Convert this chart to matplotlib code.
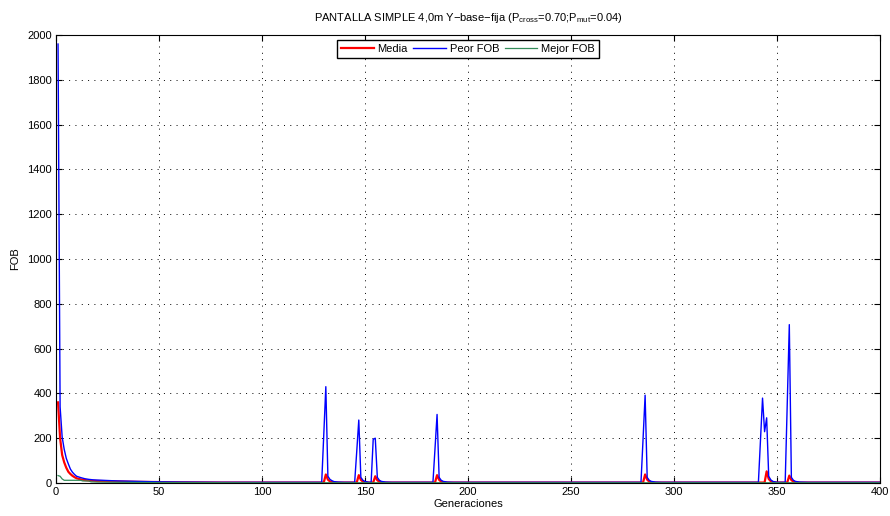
import matplotlib
matplotlib.use("Agg")
import matplotlib.pyplot as plt

plt.rcParams['font.family'] = ['Liberation Sans', 'DejaVu Sans']
plt.rcParams['mathtext.fontset'] = 'custom'
plt.rcParams['mathtext.rm'] = 'Liberation Sans'
plt.rcParams['mathtext.it'] = 'Liberation Sans:italic'

title = "PANTALLA SIMPLE 4,0m Y\u2212base\u2212fija (P$_{\\mathrm{cross}}$=0.70;P$_{\\mathrm{mut}}$=0.04)"
xlabel = "Generaciones"
ylabel = "FOB"
x_ticks = [0, 50, 100, 150, 200, 250, 300, 350, 400]
y_ticks = [0, 200, 400, 600, 800, 1000, 1200, 1400, 1600, 1800, 2000]

# Peor FOB (worst)
peor_gen = [1, 2, 3, 4, 5, 6, 7, 8, 9, 10, 12, 14, 16, 18, 20, 25, 30, 40, 50, 60, 80, 100,
            129, 130, 131, 132, 133, 134, 135, 137, 140,
            145, 146, 147, 148, 149, 150, 152,
            153, 154, 155, 156, 157, 158, 160, 163,
            183, 184, 185, 186, 187, 188, 190, 193,
            284, 285, 286, 287, 288, 289, 291, 294,
            341, 342, 343, 344, 345, 346, 347, 348, 350,
            354, 355, 356, 357, 358, 359, 361, 365, 400]
peor_val = [1960, 340, 205, 150, 110, 85, 62, 48, 38, 30, 24, 19, 16, 14, 13, 11, 9, 7, 5, 4, 3, 3,
            3, 215, 430, 30, 16, 10, 6, 4, 3,
            3, 140, 281, 25, 12, 7, 3,
            3, 195, 200, 25, 12, 7, 4, 3,
            3, 153, 306, 25, 12, 7, 4, 3,
            3, 196, 392, 25, 12, 7, 4, 3,
            3, 190, 379, 229, 291, 30, 14, 7, 3,
            3, 354, 707, 25, 12, 7, 4, 3, 3]

# Media (mean)
media_gen = [1, 2, 3, 4, 5, 6, 7, 8, 9, 10, 12, 14, 16, 18, 20, 25, 30, 40, 50, 60, 80, 100,
             130, 131, 132, 133, 134, 136,
             146, 147, 148, 149, 150, 152,
             154, 155, 156, 157, 158, 160,
             184, 185, 186, 187, 188, 190,
             285, 286, 287, 288, 289, 291,
             344, 345, 346, 347, 348, 350,
             355, 356, 357, 358, 359, 361, 400]
media_val = [360, 200, 125, 92, 68, 50, 40, 32, 26, 21, 16, 13, 11, 10, 9, 8, 7, 5, 4, 3, 2, 2,
             2, 38, 15, 7, 4, 2,
             2, 35, 14, 6, 3, 2,
             2, 30, 12, 6, 3, 2,
             2, 35, 14, 6, 3, 2,
             2, 38, 15, 6, 3, 2,
             2, 52, 18, 8, 4, 2,
             2, 33, 13, 6, 3, 2, 2]

# Mejor FOB (best)
mejor_gen = [1, 2, 3, 4, 8, 12, 13, 16, 17, 20, 30, 50, 100, 400]
mejor_val = [33, 30, 18, 12, 12, 12, 9, 9, 5, 4, 3, 2, 1, 1]

fig = plt.figure(figsize=(8.9, 5.16), dpi=100)
ax = fig.add_axes([0.0629, 0.064, 0.9258, 0.868])

ax.plot(media_gen, media_val, color='red', lw=1.6, label='Media')
ax.plot(peor_gen, peor_val, color='blue', lw=1.0, label='Peor FOB')
ax.plot(mejor_gen, mejor_val, color=(0.2, 0.55, 0.35), lw=0.9, label='Mejor FOB')

ax.set_xlim(0, 400)
ax.set_ylim(0, 2000)
ax.set_xticks(x_ticks)
ax.set_yticks(y_ticks)
ax.tick_params(direction='in', top=True, right=True, labelsize=8, length=4.5, width=0.8, pad=3)
ax.grid(True, linestyle=(0, (1, 5.5)), color='black', lw=0.7)
for s in ax.spines.values():
    s.set_linewidth(0.8)

ax.set_title(title, fontsize=8, pad=10)
ax.set_xlabel(xlabel, fontsize=8, labelpad=1)
ax.set_ylabel(ylabel, fontsize=8, labelpad=5)

leg = ax.legend(loc='upper center', ncol=3, fontsize=8, frameon=True, fancybox=False,
                edgecolor='black', framealpha=1, borderaxespad=0.4, handlelength=2.9,
                columnspacing=0.5, handletextpad=0.35, borderpad=0.4)
leg.get_frame().set_linewidth(1.0)

fig.savefig('out.png', dpi=100)
